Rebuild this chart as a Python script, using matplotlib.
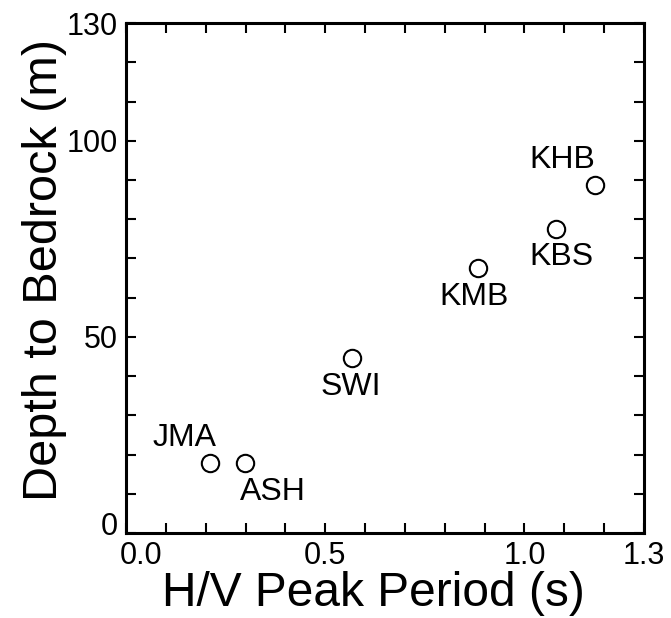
import matplotlib
matplotlib.use("Agg")
import matplotlib.pyplot as plt
import matplotlib.transforms as mtransforms
from matplotlib.ticker import MultipleLocator

plt.rcParams['font.family'] = ['Liberation Sans', 'DejaVu Sans']

stations = ['JMA', 'ASH', 'SWI', 'KMB', 'KBS', 'KHB']
period = [0.211, 0.299, 0.566, 0.883, 1.079, 1.177]
depth = [17.8, 17.8, 44.5, 67.5, 77.5, 88.7]
# label centres (data coords)
label_x = [0.146, 0.369, 0.564, 0.873, 1.093, 1.095]
label_y = [24.2, 10.5, 37.2, 60.2, 70.5, 95.0]

fig = plt.figure(figsize=(6.71, 6.18), dpi=100)
ax = fig.add_axes([0.1878, 0.1375, 0.772, 0.825])

ax.plot(period, depth, linestyle='none', marker='o', markersize=12.5,
        markerfacecolor='white', markeredgecolor='black', markeredgewidth=1.5)

for name, tx, ty in zip(stations, label_x, label_y):
    ax.text(tx, ty, name, ha='center', va='center', fontsize=23)

ax.set_xlim(0, 1.3)
ax.set_ylim(0, 130)
ax.set_xticks([0.0, 0.5, 1.0, 1.3])
ax.set_xticklabels(['0.0', '0.5', '1.0', '1.3'])
ax.set_yticks([0, 50, 100, 130])
ax.xaxis.set_minor_locator(MultipleLocator(0.1))
ax.yaxis.set_minor_locator(MultipleLocator(10))

ax.tick_params(which='both', direction='in', top=True, right=True,
               width=1.5, length=7.5, labelsize=22, pad=6)

for sp in ax.spines.values():
    sp.set_linewidth(2.2)

# nudge the corner labels apart like the original
fig.canvas.draw()
ax.get_yticklabels()[0].set_transform(
    ax.get_yticklabels()[0].get_transform()
    + mtransforms.ScaledTranslation(0, 10 / 100, fig.dpi_scale_trans))
ax.get_xticklabels()[0].set_transform(
    ax.get_xticklabels()[0].get_transform()
    + mtransforms.ScaledTranslation(15 / 100, 0, fig.dpi_scale_trans))

ax.set_xlabel('H/V Peak Period (s)', fontsize=34.5)
ax.set_ylabel('Depth to Bedrock (m)', fontsize=35)
ax.xaxis.set_label_coords(0.477, -0.075)
ax.yaxis.set_label_coords(-0.114, 0.515)

fig.savefig('out.png', dpi=100)
